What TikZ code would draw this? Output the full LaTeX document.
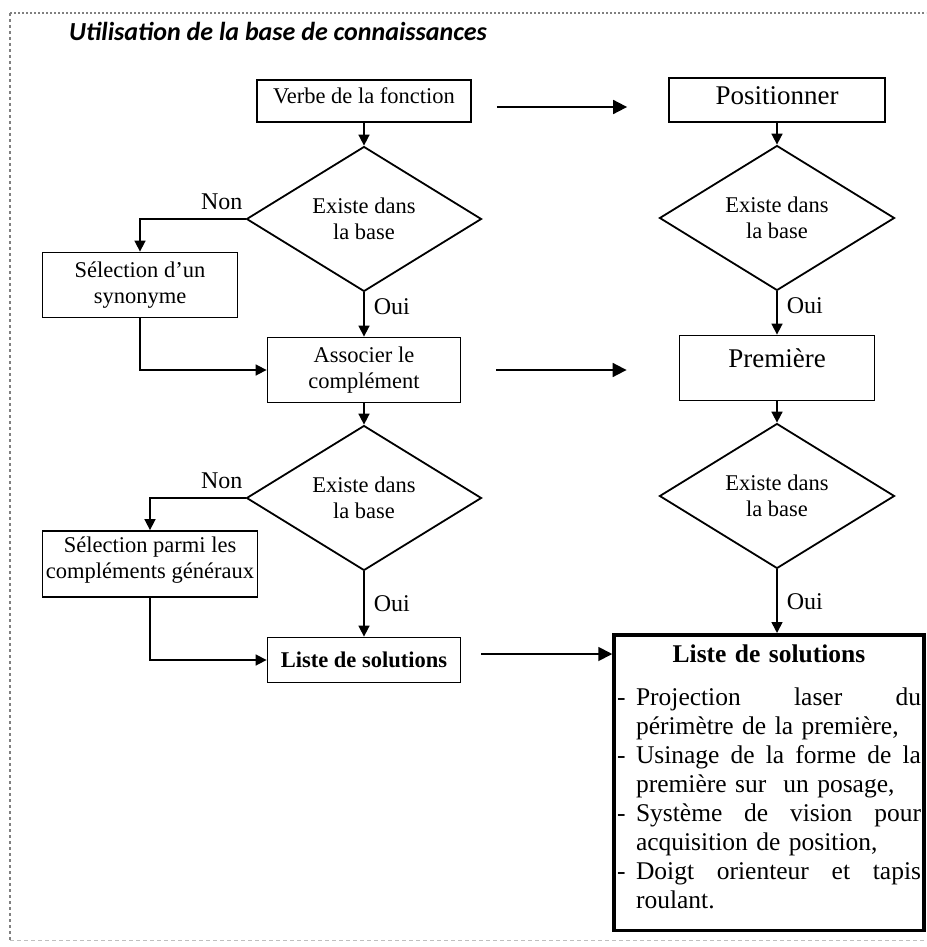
\documentclass[tikz,border=0pt]{standalone}
\usepackage{fontspec}
\setmainfont{Liberation Serif}
\newfontfamily\titlefont{Carlito}
\usetikzlibrary{arrows.meta,shapes.geometric}

\newcommand\itemline[1]{\makebox[19pt][l]{-}\makebox[285pt][l]{#1}}
\newcommand\contline[1]{\hspace*{19pt}#1}

\tikzset{
  stepbox/.style={draw,line width=1.8pt,inner sep=2pt,align=center,
    font=\fontsize{22.5}{26}\selectfont},
  namebox/.style={draw,line width=1.8pt,inner sep=2pt,align=center,
    font=\fontsize{27}{31}\selectfont},
  decision/.style={diamond,draw,line width=1.8pt,inner sep=0pt,align=center,
    minimum width=235pt,minimum height=106pt,font=\fontsize{22.5}{26}\selectfont},
  solbox/.style={draw,line width=3.5pt,text width=304pt,inner xsep=3pt,
    inner ysep=10pt,align=left,font=\fontsize{25.5}{29}\selectfont},
  lab/.style={font=\fontsize{24}{28}\selectfont,inner sep=1pt},
  flow/.style={line width=1.6pt,-{Triangle[length=11pt,width=11pt]}},
  jump/.style={line width=1.8pt,-{Triangle[length=14pt,width=14pt]}},
}

\begin{document}
\begin{tikzpicture}[x=1pt,y=-1pt]
  \useasboundingbox (0,0) rectangle (926,947);
  % frame
  \draw[gray,line width=1.5pt,dash pattern=on 2pt off 2pt] (10,13) -- (926,13);
  \draw[gray,line width=1.5pt,dash pattern=on 3pt off 3pt] (10,13) -- (10,940);
  \draw[gray!50,line width=1pt,dash pattern=on 4pt off 3pt] (10,940) -- (926,940);
  \node[anchor=base west,inner sep=0pt,
    font=\titlefont\bfseries\itshape\fontsize{26}{30}\selectfont] (title) at (69,41)
    {Utilisation de la base de connaissances};

  % left column
  \node[stepbox,minimum width=214pt,minimum height=42pt,text depth=10pt] (verbe) at (364,101) {Verbe de la fonction};
  \node[stepbox,minimum width=195pt,minimum height=65pt] (syn) at (140,285) {Sélection d’un\\synonyme};
  \node[stepbox,minimum width=193pt,minimum height=65pt] (assoc) at (364,370) {Associer le\\complément};
  \node[stepbox,minimum width=215pt,minimum height=66pt,text depth=12pt] (gen) at (150,564) {Sélection parmi les\\compléments généraux};
  \node[stepbox,minimum width=193pt,minimum height=45pt,
    font=\fontsize{22.5}{26}\selectfont\bfseries] (liste) at (364,660) {Liste de solutions};

  % right column
  \node[namebox,minimum width=216pt,minimum height=44pt,text depth=8pt] (pos) at (777,100) {Positionner};
  \node[namebox,minimum width=195pt,minimum height=65pt,text height=19pt,text depth=20pt] (prem) at (777,368) {Première};
  \node[solbox,anchor=north] (big) at (769,633) {%
    \makebox[304pt]{\bfseries Liste de solutions}\\[14pt]
    \itemline{Projection\hfill laser\hfill du}\\
    \contline{périmètre de la première,}\\
    \itemline{Usinage\hfill de\hfill la\hfill forme\hfill de\hfill la}\\
    \contline{première sur\ \ un posage,}\\
    \itemline{Système\hfill de\hfill vision\hfill pour}\\
    \contline{acquisition de position,}\\
    \itemline{Doigt\hfill orienteur\hfill et\hfill tapis}\\
    \contline{roulant.\rule[-12pt]{0pt}{12pt}}};

  \foreach \n/\x/\y in {exa/364/219,exb/364/498,exc/777/218,exd/777/496}
    \node[decision] (\n) at (\x,\y) {Existe dans\\la base};

  % connectors
  \draw[flow] (verbe) -- (exa);
  \draw[flow] (exa.west) -| (syn.north);
  \node[lab,anchor=base east] at ([xshift=-2pt,yshift=10pt]exa.west) {Non};
  \draw[flow] (exa) -- node[lab,right,pos=0.33,xshift=8pt] {Oui} (assoc);
  \draw[flow] (syn.south) |- (assoc.west);
  \draw[flow] (assoc) -- (exb);
  \draw[flow] (exb.west) -| (gen.north);
  \node[lab,anchor=base east] at ([xshift=-2pt,yshift=10pt]exb.west) {Non};
  \draw[flow] (exb) -- node[lab,right,pos=0.5,xshift=8pt] {Oui} (liste);
  \draw[flow] (gen.south) |- (liste.west);

  \draw[flow] (pos) -- (exc);
  \draw[flow] (exc) -- node[lab,right,pos=0.33,xshift=8pt] {Oui} (prem);
  \draw[flow] (prem) -- (exd);
  \draw[flow] (exd) -- node[lab,right,pos=0.5,xshift=8pt] {Oui} (exd |- big.north);

  \draw[jump,shorten <=25pt,shorten >=41pt] ([yshift=-6pt]verbe.east) -- ([yshift=-6pt]verbe.east -| pos.west);
  \draw[jump,shorten <=35pt,shorten >=52pt] (assoc.east) -- (assoc.east -| prem.west);
  \draw[jump,shorten <=20pt] ([yshift=6pt]liste.east) -- ([yshift=6pt]liste.east -| big.west);
\end{tikzpicture}
\end{document}
